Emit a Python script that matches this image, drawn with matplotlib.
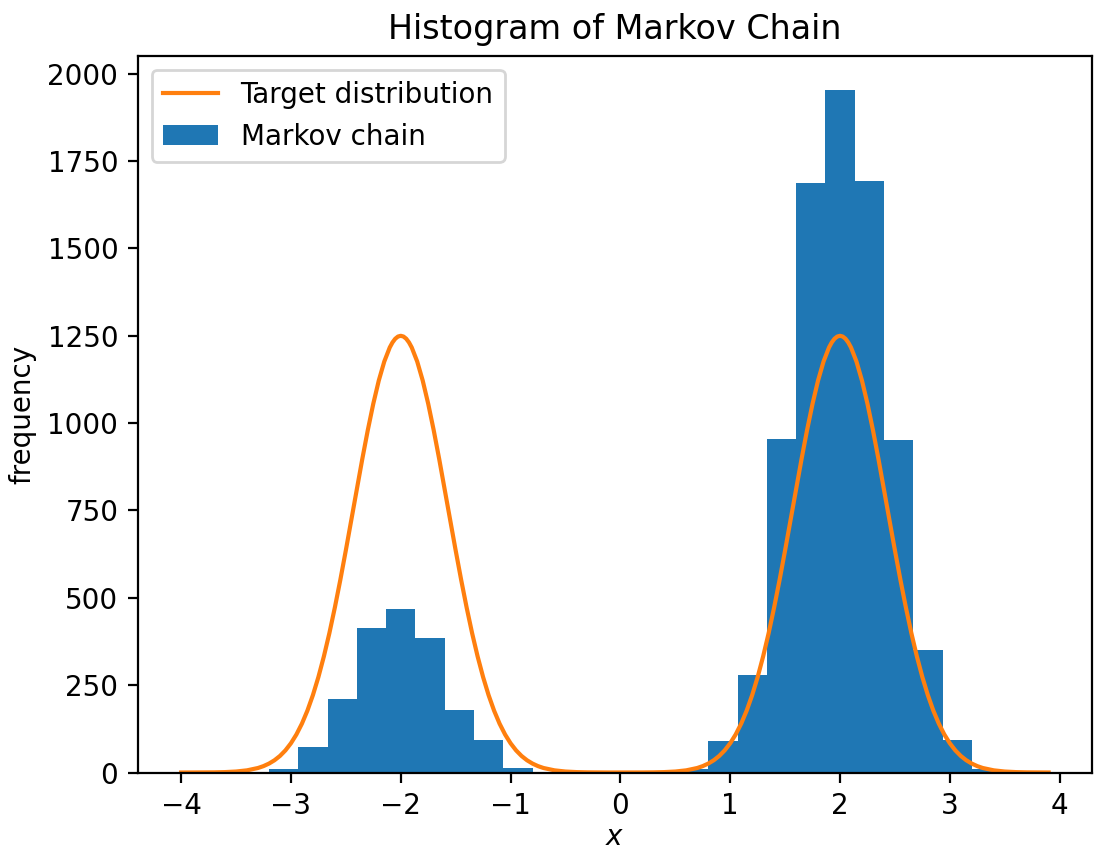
import matplotlib
matplotlib.use('Agg')
import matplotlib.pyplot as plt

# Histogram of the chain (counts)
bin_start = -3.20
bin_width = 0.2667
counts = [9, 74, 211, 413, 467, 384, 179, 93, 12,
          0, 0, 0, 0, 0, 9,
          90, 279, 954, 1688, 1954, 1693, 952, 351, 93, 10]
bin_edges = [round(bin_start + i * bin_width, 4) for i in range(len(counts) + 1)]
bin_mids = [(bin_edges[i] + bin_edges[i + 1]) / 2 for i in range(len(counts))]

# Target distribution curve
target_x = [-4.0, -3.9, -3.8, -3.7, -3.6, -3.5, -3.4, -3.3, -3.25, -3.2,
            -3.15, -3.1, -3.05, -3.0, -2.95, -2.9, -2.85, -2.8, -2.75, -2.7,
            -2.65, -2.6, -2.55, -2.5, -2.45, -2.4, -2.35, -2.3, -2.25, -2.2,
            -2.15, -2.1, -2.075, -2.05, -2.025, -2.0, -1.975, -1.95, -1.925, -1.9,
            -1.85, -1.8, -1.75, -1.7,
            -1.65, -1.6, -1.55, -1.5, -1.45, -1.4, -1.35, -1.3, -1.25, -1.2,
            -1.15, -1.1, -1.05, -1.0, -0.95, -0.9, -0.85, -0.8, -0.75, -0.7,
            -0.6, -0.5, -0.4, -0.3, -0.2, -0.1, 0.0, 0.1, 0.2, 0.3,
            0.4, 0.5, 0.6, 0.7, 0.75, 0.8, 0.85, 0.9, 0.95, 1.0,
            1.05, 1.1, 1.15, 1.2, 1.25, 1.3, 1.35, 1.4, 1.45, 1.5,
            1.55, 1.6, 1.65, 1.7, 1.75, 1.8, 1.85, 1.9, 1.925, 1.95,
            1.975, 2.0, 2.025, 2.05, 2.075, 2.1, 2.15, 2.2, 2.25, 2.3,
            2.35, 2.4, 2.45, 2.5,
            2.55, 2.6, 2.65, 2.7, 2.75, 2.8, 2.85, 2.9, 2.95, 3.0,
            3.05, 3.1, 3.15, 3.2, 3.25, 3.3, 3.4, 3.5, 3.6, 3.7,
            3.8, 3.9]
target_y = [0.0, 0.1, 0.2, 0.5, 1.2, 2.8, 6.2, 12.9, 18.3, 25.5,
            35.0, 47.4, 63.4, 83.7, 108.9, 139.8, 177.1, 221.4, 273.1, 332.3,
            398.7, 472.3, 551.7, 635.9, 723.0, 811.0, 897.6, 980.0, 1055.6, 1121.9,
            1176.3, 1216.7, 1231.1, 1241.6, 1247.9, 1250.0, 1247.9, 1241.6, 1231.1, 1216.7,
            1176.3, 1121.9, 1055.6, 980.0,
            897.6, 811.0, 723.0, 635.9, 551.7, 472.3, 398.7, 332.3, 273.1, 221.4,
            177.1, 139.8, 108.9, 83.7, 63.4, 47.4, 35.0, 25.5, 18.3, 12.9,
            6.2, 2.8, 1.2, 0.5, 0.2, 0.1, 0.1, 0.1, 0.2, 0.5,
            1.2, 2.8, 6.2, 12.9, 18.3, 25.5, 35.0, 47.4, 63.4, 83.7,
            108.9, 139.8, 177.1, 221.4, 273.1, 332.3, 398.7, 472.3, 551.7, 635.9,
            723.0, 811.0, 897.6, 980.0, 1055.6, 1121.9, 1176.3, 1216.7, 1231.1, 1241.6,
            1247.9, 1250.0, 1247.9, 1241.6, 1231.1, 1216.7, 1176.3, 1121.9, 1055.6, 980.0,
            897.6, 811.0, 723.0, 635.9,
            551.7, 472.3, 398.7, 332.3, 273.1, 221.4, 177.1, 139.8, 108.9, 83.7,
            63.4, 47.4, 35.0, 25.5, 18.3, 12.9, 6.2, 2.8, 1.2, 0.5,
            0.2, 0.1]

fig = plt.figure(figsize=(5.47, 4.26), dpi=200)
ax = fig.add_axes([0.1259, 0.0933, 0.8723, 0.8413])

ax.plot(target_x, target_y, color='#ff7f0e', label='Target distribution')
ax.hist(bin_mids, bins=bin_edges, weights=counts, color='#1f77b4', label='Markov chain')

ax.set_title('Histogram of Markov Chain')
ax.set_xlabel('$x$', labelpad=1)
ax.set_ylabel('frequency')
ax.legend(loc='upper left')

fig.savefig('out.png', dpi=200)
